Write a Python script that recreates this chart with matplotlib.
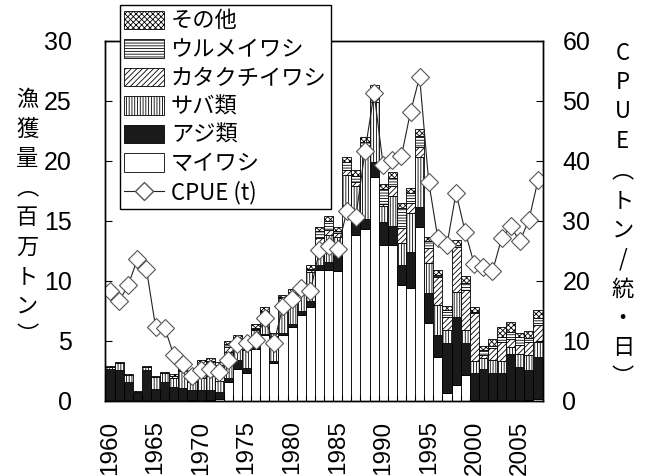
import matplotlib
matplotlib.use("Agg")
import matplotlib.pyplot as plt
from matplotlib.patches import Patch
from matplotlib.lines import Line2D
from matplotlib.ticker import MultipleLocator

plt.rcParams['font.family'] = ['Noto Sans CJK JP', 'DejaVu Sans']
plt.rcParams['hatch.linewidth'] = 0.6

# ---- data (million t / CPUE t per unit-day) ----
years = list(range(1960, 2008))

maiwashi = [0, 0, 0, 0, 0, 0, 0, 0, 0, 0.05,
            0, 0.1, 0.15, 1.6, 2.7, 2.3, 4.3, 5.5, 3.15, 5.5,
            6.2, 7.15, 7.8, 10.9, 10.9, 10.8, 16.2, 13.8, 14.3, 18.7,
            13.0, 13.0, 9.7, 9.4, 14.5, 6.5, 3.7, 0.65, 1.35, 2.15,
            0, 0, 0, 0, 0, 0, 0.05, 0.15]
aji = [2.65, 2.6, 1.55, 0.7, 2.55, 1.0, 1.6, 1.2, 1.05, 0.85,
       0.9, 0.8, 0.6, 0.33, 0.7, 0.42, 0.2, 0.05, 0.15, 0.15,
       0.22, 0.33, 0.56, 0.45, 0.7, 1.25, 0.1, 1.25, 0.85, 1.25,
       1.95, 1.55, 1.65, 3.05, 1.65, 2.5, 1.8, 4.15, 5.65, 2.65,
       2.3, 2.7, 2.3, 2.3, 3.95, 2.85, 2.55, 3.55]
saba = [0.2, 0.55, 0.62, 0.05, 0.25, 1.0, 0.7, 0.7, 1.45, 0.7,
        1.0, 1.2, 0.9, 2.15, 1.65, 1.5, 1.4, 1.75, 2.05, 2.9,
        2.4, 1.75, 2.4, 1.55, 2.2, 1.65, 2.5, 2.9, 5.7, 5.0,
        1.3, 2.5, 1.8, 3.2, 4.15, 2.5, 2.5, 1.1, 2.1, 1.1,
        1.0, 0.85, 1.1, 1.0, 0.55, 1.1, 1.25, 1.25]
katakuchi = [0, 0, 0, 0, 0, 0, 0, 0.2, 0.1, 0.6,
             0.8, 0.85, 1.0, 0.42, 0.12, 0.1, 0.1, 0.1, 0.05, 0.05,
             0.15, 0.15, 0.15, 0.7, 0.42, 0.3, 0.42, 0.28, 0.3, 0.3,
             0.15, 0.83, 1.25, 0.83, 0.83, 1.25, 2.35, 1.1, 3.7, 3.35,
             4.0, 0.3, 1.0, 1.65, 0.7, 0.7, 1.1, 1.4]
urume = [0, 0, 0, 0, 0, 0, 0, 0, 0.1, 0.1,
         0.4, 0.35, 0.35, 0.28, 0.1, 0.1, 0.1, 0.1, 0.05, 0.05,
         0.1, 0.15, 0.1, 0.56, 0.78, 0.2, 0.69, 0.56, 0.4, 0.5,
         1.25, 0.7, 1.65, 0.83, 0.97, 0.56, 0.15, 0.55, 0.2, 0.55,
         0.15, 0.4, 0.2, 0.4, 0.55, 0.65, 0.28, 0.55]
sonota = [0.1, 0.14, 0.08, 0.05, 0.1, 0.12, 0.14, 0.15, 0.1, 0.14,
          0.3, 0.3, 0.25, 0.25, 0.25, 0.2, 0.32, 0.32, 0.25, 0.2,
          0.25, 0.25, 0.3, 0.35, 0.39, 0.33, 0.42, 0.42, 0.44, 0.55,
          0.45, 0.47, 0.42, 0.42, 0.56, 0.36, 0.45, 0.4, 0.4, 0.6,
          0.4, 0.35, 0.6, 0.85, 0.85, 0.35, 0.64, 0.7]
cpue = [18.3, 16.6, 19.3, 23.6, 22.0, 12.4, 12.2, 7.7, 6.2, 4.1,
        5.2, 5.4, 4.9, 6.9, 9.5, 9.6, 10.2, 13.8, 9.7, 15.8,
        17.0, 18.8, 18.3, 25.1, 25.8, 25.3, 31.6, 30.7, 41.6, 51.3,
        39.3, 40.2, 40.8, 48.2, 54.0, 36.5, 27.1, 26.0, 34.7, 28.2,
        22.8, 22.4, 21.6, 27.1, 29.1, 26.6, 30.2, 36.8]

series = [
    ("マイワシ", maiwashi, "white", ""),
    ("アジ類", aji, "#1a1a1a", ""),
    ("サバ類", saba, "white", "||||||"),
    ("カタクチイワシ", katakuchi, "white", "//////"),
    ("ウルメイワシ", urume, "white", "------"),
    ("その他", sonota, "white", "xxxxxx"),
]

fig = plt.figure(figsize=(6.46, 4.76), dpi=100)
ax = fig.add_axes([0.1625, 0.1576, 0.6781, 0.7563])

bottom = [0.0] * len(years)
handles = []
for name, vals, color, hatch in series:
    ax.bar(years, vals, width=1.0, bottom=bottom, color=color,
           edgecolor="black", linewidth=0.6, hatch=hatch)
    bottom = [b + v for b, v in zip(bottom, vals)]
    handles.append(Patch(facecolor=color, edgecolor="black", linewidth=0.6,
                         hatch=hatch, label=name))

ax.set_xlim(1959.45, 2007.55)
ax.set_ylim(0, 30)
ax.yaxis.set_major_locator(MultipleLocator(5))
ax.set_xticks(years[::5])
ax.set_xticks([y - 0.5 for y in years[1:]], minor=True)
ax.tick_params(axis="x", which="major", length=0, pad=14, labelrotation=90)
ax.tick_params(axis="x", which="minor", direction="in", length=4, width=0.8)
ax.tick_params(axis="y", direction="in", length=5, width=0.8, pad=24)
for lab in ax.get_xticklabels():
    lab.set_fontfamily(['Liberation Sans', 'DejaVu Sans'])
    lab.set_fontsize(17.5)
for lab in ax.get_yticklabels():
    lab.set_fontfamily(['Liberation Sans Narrow', 'Liberation Sans', 'DejaVu Sans'])
    lab.set_fontsize(18)

# ---- CPUE line on right axis ----
ax2 = ax.twinx()
ax2.plot(years, cpue, color="#222222", linewidth=0.8, marker="D",
         markersize=9.5, markerfacecolor="white", markeredgecolor="#555555",
         markeredgewidth=0.8)
ax2.set_ylim(0, 60)
ax2.yaxis.set_major_locator(MultipleLocator(10))
ax2.tick_params(axis="y", direction="in", length=5, width=0.8, pad=14)
for lab in ax2.get_yticklabels():
    lab.set_fontfamily(['Liberation Sans Narrow', 'Liberation Sans', 'DejaVu Sans'])
    lab.set_fontsize(18)

for a in (ax, ax2):
    for sp in a.spines.values():
        sp.set_linewidth(1.0)

handles = handles[::-1]
handles.append(Line2D([], [], color="#222222", linewidth=0.8, marker="D",
                      markersize=9.5, markerfacecolor="white",
                      markeredgecolor="#555555", label="CPUE (t)"))
leg = ax2.legend(handles=handles, loc="upper left", bbox_to_anchor=(0.034, 1.1),
                 fontsize=16, frameon=True, fancybox=False, framealpha=1,
                 edgecolor="black", handlelength=1.8, handleheight=0.9,
                 handletextpad=0.3, labelspacing=0.25, borderpad=0.2,
                 borderaxespad=0)
leg.get_frame().set_linewidth(1.0)

# ---- vertical axis titles ----
fig.text(0.042, 0.543, "\n".join("漁獲量︵百万トン︶"), fontsize=16,
         ha="center", va="center", linespacing=1.36)
fig.text(0.964, 0.548, "\n".join("CPUE︵トン/統・日︶"), fontsize=16,
         ha="center", va="center", linespacing=1.36)

plt.savefig("out.png", dpi=100)
plt.close()
